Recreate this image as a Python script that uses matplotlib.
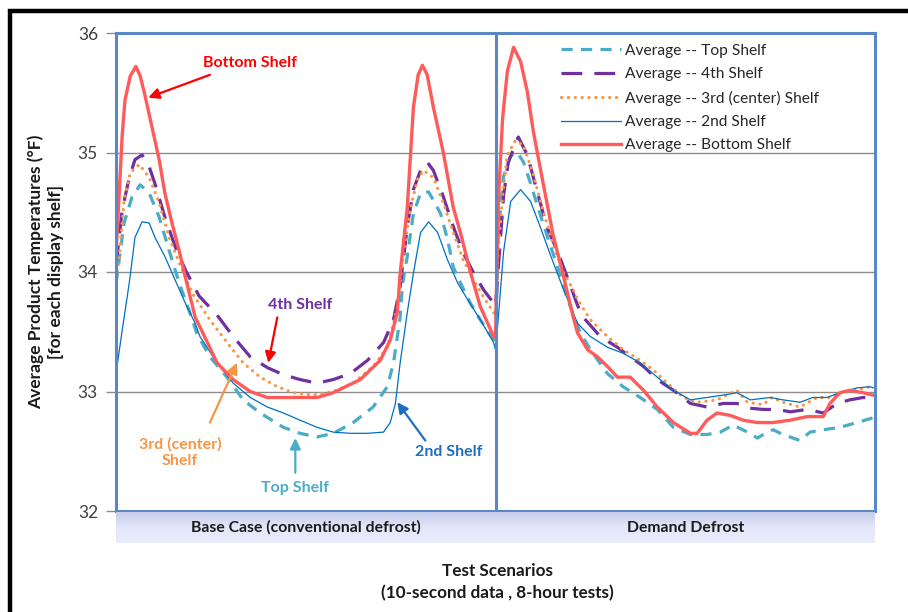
import matplotlib
matplotlib.use("Agg")
import matplotlib.pyplot as plt
import numpy as np
from matplotlib.patches import Rectangle
from matplotlib.colors import LinearSegmentedColormap

plt.rcParams['font.family'] = ['Lato', 'DejaVu Sans']

# ---------------- data (hours: 0-8 base case, 8-16 demand defrost; values in °F) -------------
top_h = [0.0, 0.17, 0.34, 0.51, 0.70, 0.91, 1.12, 1.33, 1.54, 1.71, 1.98, 2.34, 2.68, 3.04, 3.53,
         3.88, 4.24, 4.58, 5.00, 5.42, 5.72, 5.85, 5.99, 6.04, 6.14, 6.27, 6.42, 6.59, 6.69, 6.84,
         6.99, 7.11, 7.26, 7.47, 7.68, 7.96, 8.0, 8.06, 8.17, 8.32, 8.46, 8.59, 8.74, 8.88, 9.09,
         9.31, 9.52, 9.79, 10.0, 10.36, 10.69, 11.05, 11.41, 11.75, 12.11, 12.46, 12.74, 13.01,
         13.31, 13.52, 13.73, 13.85, 14.06, 14.42, 14.63, 14.91, 15.26, 15.62, 15.96]
top_v = [33.90, 34.41, 34.63, 34.73, 34.66, 34.46, 34.18, 33.91, 33.68, 33.48, 33.29, 33.12, 32.93,
         32.82, 32.70, 32.65, 32.62, 32.65, 32.74, 32.87, 33.04, 33.24, 33.62, 33.90, 34.13, 34.49,
         34.66, 34.67, 34.60, 34.49, 34.27, 34.04, 33.91, 33.74, 33.60, 33.43, 33.40, 34.35, 34.80,
         34.97, 35.00, 34.92, 34.74, 34.56, 34.30, 34.04, 33.77, 33.49, 33.35, 33.15, 33.04, 32.95,
         32.85, 32.70, 32.64, 32.64, 32.66, 32.72, 32.66, 32.61, 32.66, 32.68, 32.64, 32.59, 32.66,
         32.68, 32.70, 32.74, 32.78]

fourth_h = [0.0, 0.13, 0.28, 0.40, 0.55, 0.70, 0.82, 1.03, 1.25, 1.46, 1.75, 2.13, 2.47, 2.83, 3.19,
            3.53, 3.88, 4.24, 4.58, 4.94, 5.30, 5.64, 5.85, 5.99, 6.14, 6.27, 6.42, 6.56, 6.69, 6.90,
            7.11, 7.32, 7.54, 7.75, 7.96, 8.0, 8.11, 8.17, 8.27, 8.48, 8.67, 8.88, 9.09, 9.31, 9.52,
            9.73, 9.85, 10.21, 10.57, 10.84, 11.12, 11.41, 11.75, 12.11, 12.46, 12.80, 13.09, 13.37,
            13.64, 13.94, 14.21, 14.57, 14.91, 15.20, 15.47, 15.75, 15.96]
fourth_v = [34.05, 34.52, 34.79, 34.94, 34.98, 34.88, 34.74, 34.46, 34.21, 34.02, 33.80, 33.64, 33.46,
            33.29, 33.20, 33.14, 33.10, 33.07, 33.10, 33.15, 33.26, 33.41, 33.60, 33.88, 34.38, 34.69,
            34.85, 34.92, 34.85, 34.63, 34.38, 34.16, 33.99, 33.85, 33.74, 33.71, 34.31, 34.64, 34.92,
            35.13, 34.98, 34.67, 34.37, 34.17, 33.95, 33.72, 33.62, 33.46, 33.37, 33.29, 33.21, 33.10,
            33.01, 32.90, 32.87, 32.90, 32.90, 32.86, 32.85, 32.85, 32.83, 32.85, 32.82, 32.90, 32.93,
            32.95, 32.94]

third_h = [0.0, 0.06, 0.17, 0.30, 0.49, 0.70, 0.91, 1.12, 1.33, 1.61, 1.98, 2.34, 2.68, 3.04, 3.40,
           3.74, 4.16, 4.58, 5.00, 5.42, 5.72, 5.93, 6.06, 6.21, 6.35, 6.48, 6.69, 6.90, 7.11, 7.32,
           7.54, 7.75, 7.96, 8.0, 8.04, 8.15, 8.25, 8.42, 8.59, 8.80, 9.01, 9.22, 9.43, 9.64, 9.73,
           10.0, 10.36, 10.69, 11.05, 11.33, 11.62, 11.96, 12.25, 12.67, 13.09, 13.31, 13.64, 13.83,
           14.06, 14.42, 14.78, 15.05, 15.33, 15.62, 15.83, 15.96]
third_v = [33.95, 34.08, 34.60, 34.83, 34.90, 34.79, 34.58, 34.29, 34.08, 33.82, 33.60, 33.41, 33.24,
           33.12, 33.04, 32.99, 32.97, 33.00, 33.07, 33.21, 33.37, 33.70, 34.16, 34.54, 34.77, 34.85,
           34.79, 34.58, 34.33, 34.10, 33.93, 33.79, 33.66, 33.64, 34.08, 34.64, 34.98, 35.10, 35.06,
           34.81, 34.50, 34.23, 34.00, 33.85, 33.77, 33.60, 33.46, 33.35, 33.26, 33.18, 33.07, 32.95,
           32.91, 32.93, 33.01, 32.91, 32.89, 32.95, 32.91, 32.87, 32.95, 32.95, 33.00, 33.01, 33.04,
           33.02]

second_h = [0.0, 0.13, 0.28, 0.40, 0.55, 0.70, 0.82, 1.03, 1.25, 1.46, 1.67, 1.77, 2.13, 2.47, 2.83,
            3.19, 3.53, 3.88, 4.24, 4.58, 4.94, 5.30, 5.64, 5.78, 5.89, 5.99, 6.14, 6.27, 6.42, 6.59,
            6.78, 6.99, 7.20, 7.41, 7.68, 7.96, 8.0, 8.06, 8.17, 8.32, 8.53, 8.74, 8.95, 9.16, 9.37,
            9.52, 9.73, 10.0, 10.36, 10.69, 11.05, 11.41, 11.75, 12.11, 12.46, 12.80, 13.09, 13.37,
            13.79, 14.06, 14.42, 14.69, 14.99, 15.26, 15.62, 15.89, 15.96]
second_v = [33.15, 33.51, 33.91, 34.29, 34.42, 34.41, 34.29, 34.13, 33.93, 33.74, 33.57, 33.46, 33.24,
            33.07, 32.95, 32.87, 32.82, 32.76, 32.70, 32.66, 32.65, 32.65, 32.66, 32.74, 32.90, 33.24,
            33.66, 33.99, 34.33, 34.42, 34.33, 34.10, 33.91, 33.77, 33.60, 33.41, 33.35, 33.62, 34.17,
            34.59, 34.69, 34.59, 34.37, 34.14, 33.92, 33.77, 33.57, 33.46, 33.37, 33.32, 33.24, 33.12,
            33.01, 32.93, 32.95, 32.97, 32.99, 32.93, 32.95, 32.93, 32.91, 32.95, 32.95, 32.99, 33.03,
            33.04, 33.03]

bottom_h = [0.0, 0.06, 0.13, 0.19, 0.30, 0.42, 0.51, 0.61, 0.76, 0.91, 1.03, 1.18, 1.33, 1.46, 1.67,
            1.77, 2.13, 2.47, 2.83, 3.19, 3.88, 4.24, 4.58, 5.15, 5.57, 5.78, 5.93, 5.99, 6.14, 6.27,
            6.37, 6.46, 6.56, 6.69, 6.90, 7.11, 7.26, 7.47, 7.68, 7.96, 8.0, 8.06, 8.15, 8.25, 8.38,
            8.53, 8.67, 8.80, 9.01, 9.22, 9.43, 9.64, 9.73, 9.94, 10.15, 10.36, 10.57, 10.84, 11.12,
            11.41, 11.75, 12.11, 12.25, 12.46, 12.67, 12.95, 13.22, 13.52, 13.85, 14.21, 14.57,
            14.91, 15.05, 15.26, 15.47, 15.75, 15.96]
bottom_v = [34.15, 34.60, 35.14, 35.44, 35.64, 35.72, 35.64, 35.48, 35.21, 34.94, 34.66, 34.41, 34.18,
            33.96, 33.62, 33.54, 33.24, 33.10, 33.00, 32.95, 32.95, 32.95, 32.99, 33.10, 33.26, 33.43,
            33.66, 33.99, 34.54, 35.38, 35.65, 35.73, 35.65, 35.38, 35.00, 34.54, 34.33, 34.00, 33.71,
            33.46, 33.45, 34.59, 35.29, 35.68, 35.88, 35.76, 35.51, 35.17, 34.73, 34.30, 33.97, 33.62,
            33.49, 33.35, 33.29, 33.21, 33.12, 33.12, 33.01, 32.87, 32.74, 32.65, 32.65, 32.76, 32.82,
            32.80, 32.76, 32.74, 32.74, 32.76, 32.79, 32.79, 32.90, 32.99, 33.01, 32.99, 32.97]

scenarios = ["Base Case (conventional defrost)", "Demand Defrost"]
series_labels = ["Average -- Top Shelf", "Average -- 4th Shelf", "Average -- 3rd (center) Shelf",
                 "Average -- 2nd Shelf", "Average -- Bottom Shelf"]
yticks = [32, 33, 34, 35, 36]

# ---------------- styling ----------------
W, H = 908, 612
fig = plt.figure(figsize=(W / 100, H / 100), dpi=100)

def fx(px):
    return px / W

def fy(py):
    return 1 - py / H

ax = fig.add_axes([fx(116), fy(511), fx(875) - fx(116), fy(33) - fy(511)])
ax.set_xlim(0, 16)
ax.set_ylim(32, 36)

c_top, c_4th, c_3rd, c_2nd, c_bot = "#4BACC6", "#7030A0", "#F79646", "#0070C0", "#FF5B5B"

l1, = ax.plot(top_h, top_v, color=c_top, lw=2.3, dashes=(3.5, 2.6), label=series_labels[0])
l2, = ax.plot(fourth_h, fourth_v, color=c_4th, lw=2.3, dashes=(6.5, 3.8), label=series_labels[1])
l3, = ax.plot(third_h, third_v, color=c_3rd, lw=2.3, dashes=(0.05, 2.1), dash_capstyle='round',
              label=series_labels[2])
l4, = ax.plot(second_h, second_v, color=c_2nd, lw=0.9, label=series_labels[3])
l5, = ax.plot(bottom_h, bottom_v, color=c_bot, lw=2.4, label=series_labels[4])
for ln in (l1, l2, l4, l5):
    ln.set_solid_joinstyle('round')

for y in [33, 34, 35]:
    ax.axhline(y, color="#8C8C8C", lw=1.0, zorder=0)
ax.axvline(8, color="#5B87C5", lw=2.2, zorder=5)

for s in ax.spines.values():
    s.set_color("#5B87C5")
    s.set_linewidth(2.2)

ax.set_yticks(yticks)
ax.set_yticklabels([str(t) for t in yticks], fontsize=12.5, color="#404040")
ax.tick_params(axis='y', length=7, width=1, color="#8C8C8C", pad=6)
ax.set_xticks([])

leg = ax.legend(handles=[l1, l2, l3, l4, l5], loc="upper left",
                bbox_to_anchor=(fx(550), fy(33)), bbox_transform=fig.transFigure,
                frameon=False, fontsize=11.2, handlelength=3.85, handletextpad=0.3,
                labelspacing=0.6, borderpad=0.2)
for t in leg.get_texts():
    t.set_color("#262626")

def arrow(xy, xytext, acolor):
    ax.annotate("", xy=xy, xytext=xytext,
                arrowprops=dict(arrowstyle="-|>", color=acolor, lw=1.6, mutation_scale=16,
                                shrinkA=0, shrinkB=0))

afs = 11.5
ax.text(2.83, 35.75, "Bottom Shelf", color="#FF0000", fontsize=afs, fontweight="bold",
        ha="center", va="center")
arrow((0.68, 35.46), (1.98, 35.65), "#FF0000")
ax.text(3.88, 33.72, "4th Shelf", color=c_4th, fontsize=afs, fontweight="bold",
        ha="center", va="center")
arrow((3.21, 33.24), (3.40, 33.62), "#FF0000")
ax.text(1.35, 32.49, "3rd (center)\nShelf", color=c_3rd, fontsize=afs, fontweight="bold",
        ha="center", va="center", linespacing=1.15)
arrow((2.55, 33.24), (1.98, 32.74), c_3rd)
ax.text(3.78, 32.19, "Top Shelf", color=c_top, fontsize=afs, fontweight="bold",
        ha="center", va="center")
arrow((3.78, 32.61), (3.78, 32.32), c_top)
ax.text(7.01, 32.49, "2nd Shelf", color="#1F6FC0", fontsize=afs, fontweight="bold",
        ha="center", va="center")
arrow((5.93, 32.91), (6.52, 32.59), "#1F6FC0")

ax.set_ylabel("Average Product Temperatures (°F)\n[for each display shelf]",
              fontsize=12.5, fontweight="bold", color="#1A1A1A", labelpad=10, linespacing=1.25)

# category band with gradient
band = fig.add_axes([fx(116), fy(543), fx(875) - fx(116), fy(512) - fy(543)])
grad = np.linspace(0, 1, 64).reshape(-1, 1)
cmap = LinearSegmentedColormap.from_list("b", ["#C8CDEB", "#E3E7F9", "#E9ECFA"])
band.imshow(grad, aspect="auto", cmap=cmap, extent=(0, 16, 0, 1), origin="upper")
band.set_xlim(0, 16)
band.set_ylim(0, 1)
band.axis("off")
band.text(4, 0.5, scenarios[0], ha="center", va="center", fontsize=11.3, fontweight="bold",
          color="#1A1A1A")
band.text(12, 0.5, scenarios[1], ha="center", va="center", fontsize=11.3, fontweight="bold",
          color="#1A1A1A")

fig.text(fx(497), fy(571), "Test Scenarios", ha="center", va="center", fontsize=12.3,
         fontweight="bold", color="#1A1A1A")
fig.text(fx(497), fy(593), "(10-second data , 8-hour tests)", ha="center", va="center",
         fontsize=12.3, fontweight="bold", color="#1A1A1A")

# outer black frame (partially visible)
fig.patches.append(Rectangle((fx(10), -0.05), 1.2, fy(11) + 0.05, transform=fig.transFigure,
                             fill=False, edgecolor="black", lw=3.2, clip_on=False))

fig.savefig("out.png", dpi=100)
